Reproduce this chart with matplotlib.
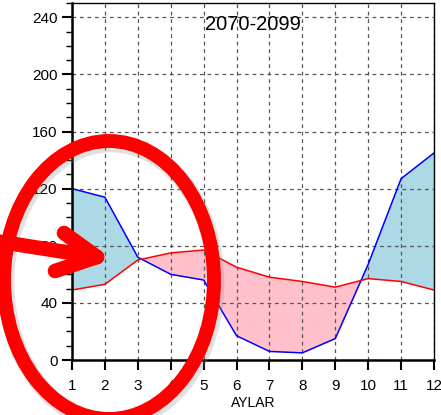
import numpy as np
import matplotlib.pyplot as plt
from matplotlib.patches import Ellipse
from matplotlib.lines import Line2D
from matplotlib.ticker import MultipleLocator

plt.rcParams['font.family'] = ['Liberation Sans', 'DejaVu Sans']

months = np.arange(1, 13)
future = np.array([120, 114, 72, 60, 56, 17, 6, 5, 15, 67, 127, 145])
ref = np.array([49, 53, 70, 75, 77, 65, 58, 55, 51, 57, 55, 49])
title = "2070-2099"
xlabel = "AYLAR"

W, H = 441, 415
fig = plt.figure(figsize=(W / 100, H / 100), dpi=100)
ax = fig.add_axes([72 / W, 1 - 360 / H, 362 / W, 357 / H])

ax.fill_between(months, ref, future, where=future >= ref, interpolate=True,
                color='#add8e6', lw=0)
ax.fill_between(months, ref, future, where=future <= ref, interpolate=True,
                color='#ffc0cb', lw=0)
ax.plot(months, future, color='#0000ff', lw=1.1)
ax.plot(months, ref, color='#ff0000', lw=1.1)

ax.set_xlim(1, 12)
ax.set_ylim(0, 250)
ax.set_xticks(months)
ax.yaxis.set_major_locator(MultipleLocator(40))
ax.yaxis.set_minor_locator(MultipleLocator(10))
ax.grid(True, which='major', ls=(0, (3, 3)), color='#555555', lw=0.9)
ax.tick_params(which='major', length=7, width=1.5, labelsize=11, direction='out')
ax.tick_params(axis='x', pad=7)
ax.tick_params(which='minor', length=4, width=1, direction='out')
ax.tick_params(axis='y', right=False)
for s in ['left', 'bottom']:
    ax.spines[s].set_linewidth(1.8)
for s in ['top', 'right']:
    ax.spines[s].set_linewidth(1)
ax.text(0.5, 0.94, title, transform=ax.transAxes, ha='center', va='center',
        fontsize=14.5)
ax.set_xlabel(xlabel, fontsize=10, labelpad=2)


def px(x, y):
    return x / W, 1 - y / H


# red ellipse highlight with soft shadow
cx, cy = px(109, 280)
for dx, dy, c, a, lw in [(2, -3, '#888888', 0.25, 12), (0, 0, '#ff0000', 1, 10)]:
    e = Ellipse((cx + dx / W, cy + dy / H), 210 / W, 278 / H, transform=fig.transFigure,
                fill=False, ec=c, alpha=a, lw=lw, clip_on=False)
    fig.add_artist(e)

# arrow
tip = px(97, 257)
for start in [px(-5, 241), px(64, 233), px(55, 271)]:
    fig.add_artist(Line2D([start[0], tip[0]], [start[1], tip[1]],
                          transform=fig.transFigure, color='#ff0000', lw=10.5,
                          solid_capstyle='round'))

fig.savefig("out.png", dpi=100)
